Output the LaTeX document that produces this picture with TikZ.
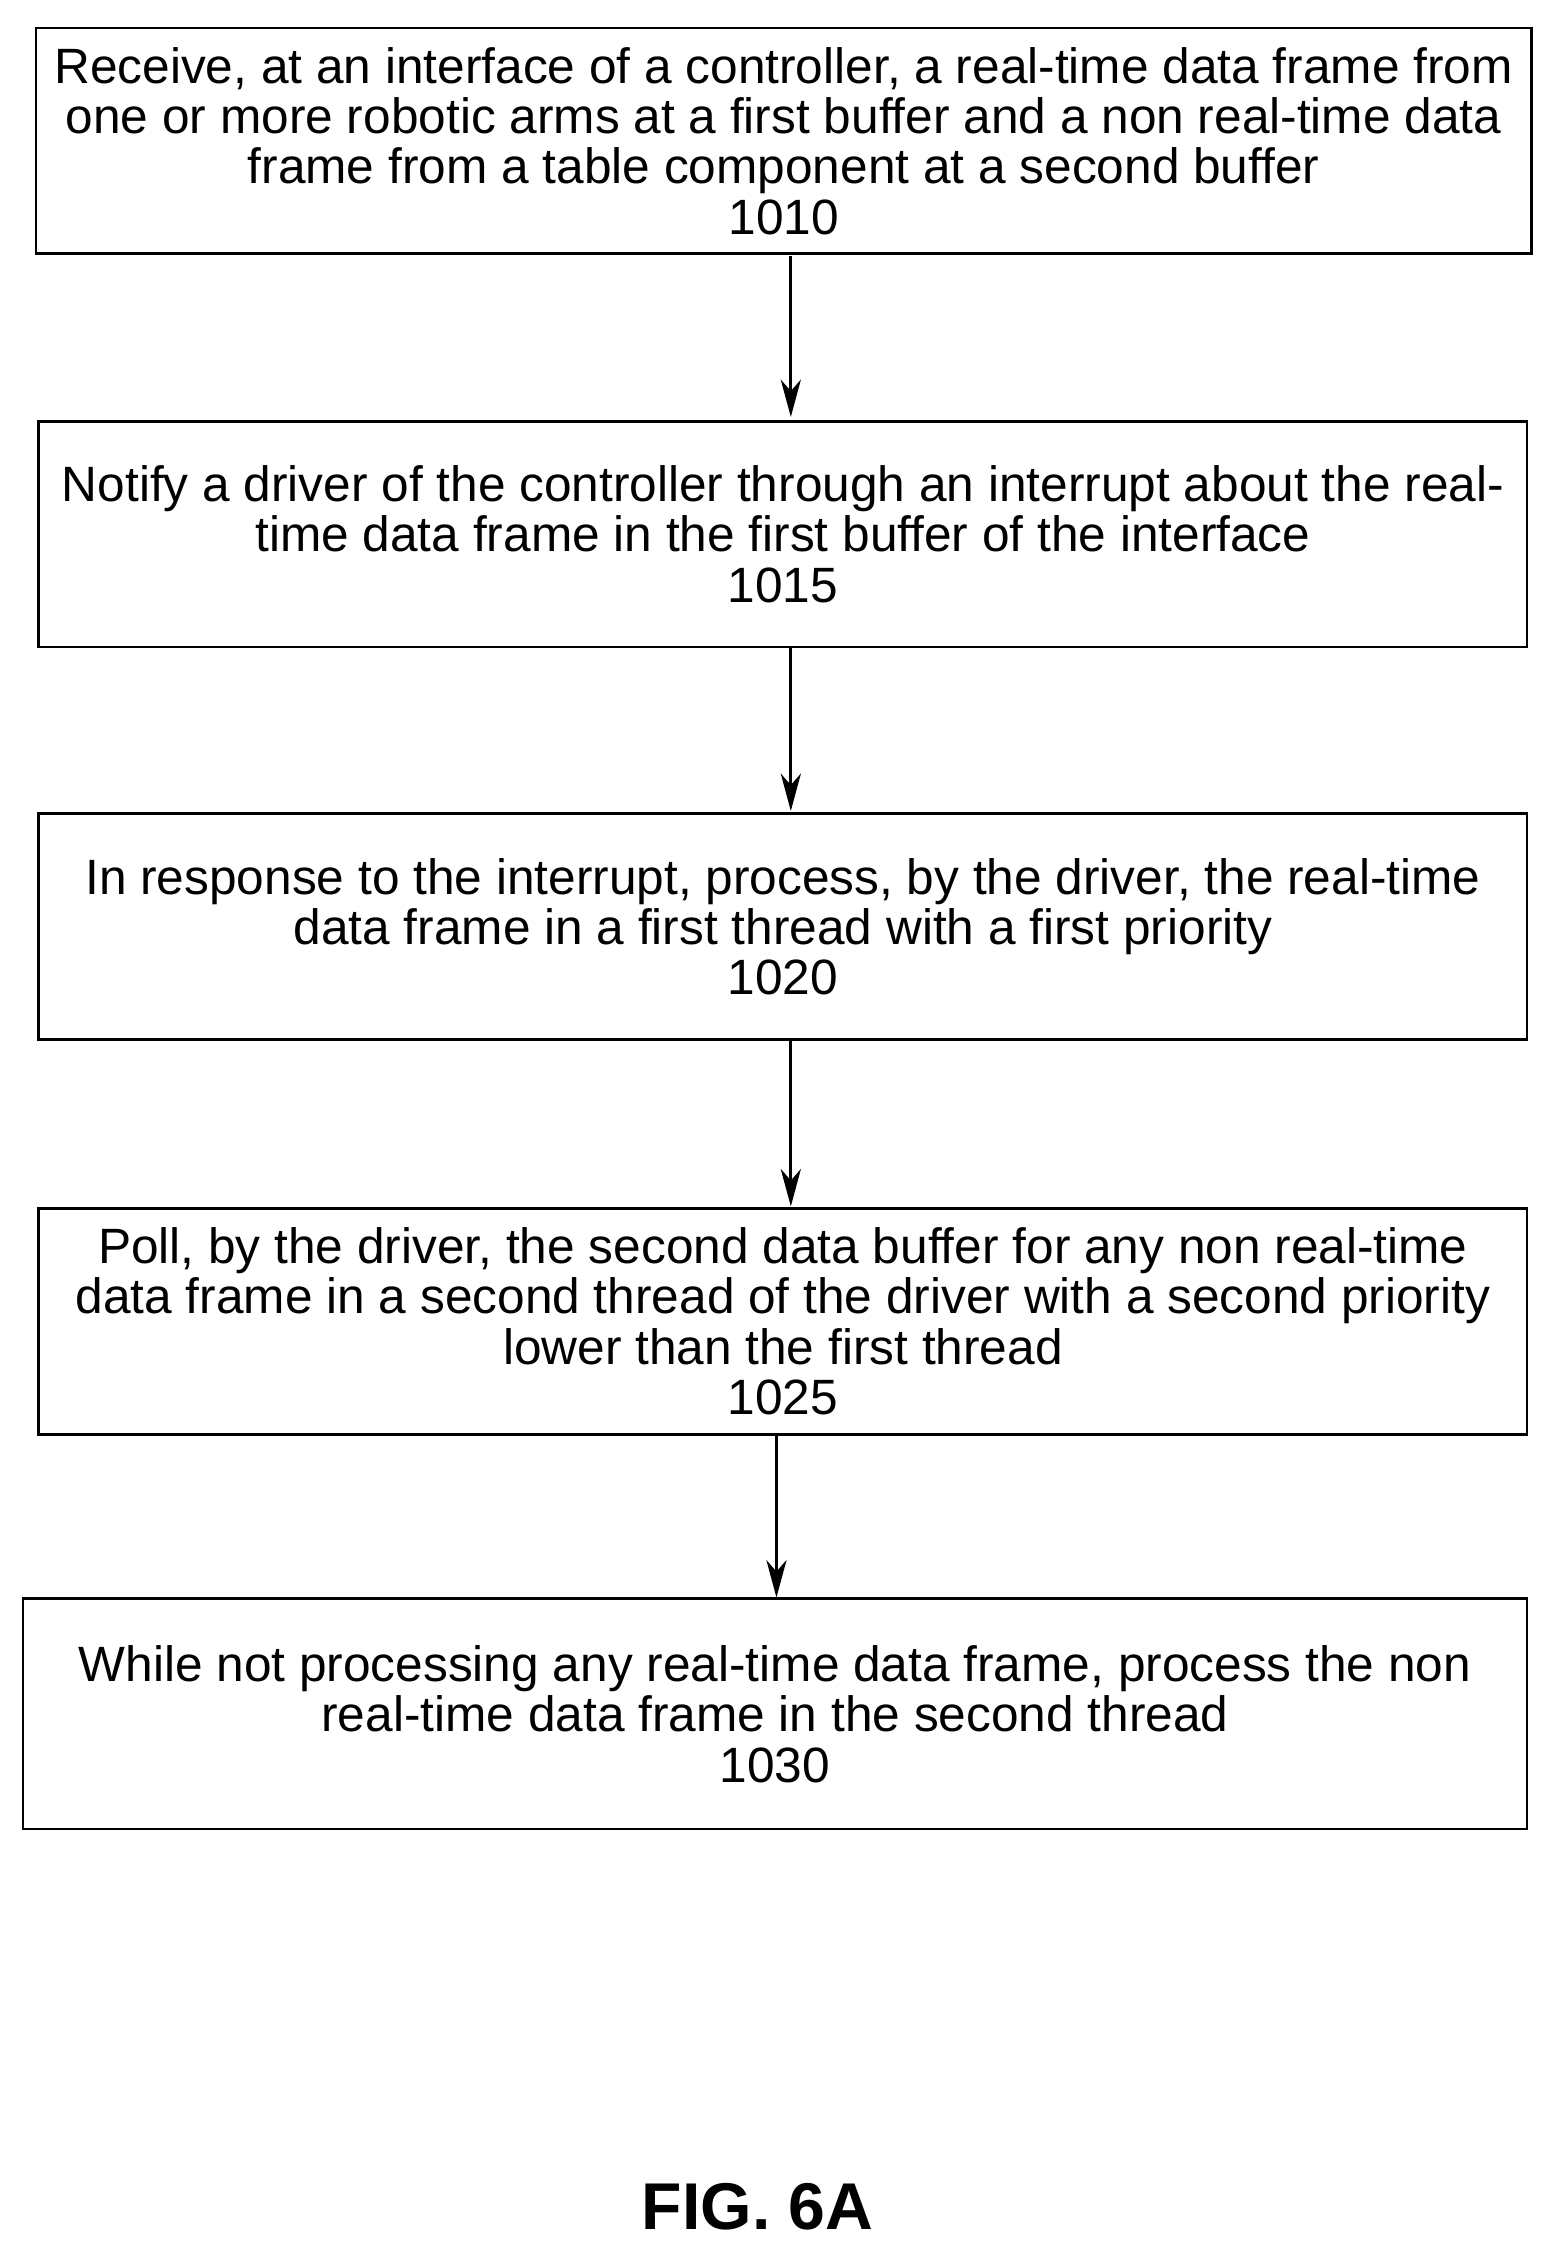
\documentclass[tikz,border=0pt]{standalone}
\usepackage{fontspec}
\usetikzlibrary{arrows.meta}
\setmainfont{Liberation Sans}
\tikzset{every picture/.style={line width=2pt}}
\tikzset{stepbox/.style={draw,rectangle,line width=2pt,minimum height=157pt,align=center,inner sep=0pt,
  font=\fontsize{34.5}{35}\selectfont}}
\tikzset{flow/.style={line width=2pt,-{Stealth[length=26pt,width=14pt,inset=8pt]}}}
\begin{document}
\begin{tikzpicture}[x=1pt,y=1pt,yscale=-1,xscale=1]
  \useasboundingbox (0,0) rectangle (1090,1569);

  % Boxes
  \node [stepbox,minimum width=1040pt] (s1010) at (545,98) {Receive, at an interface of a controller, a real-time data frame from\\one or more robotic arms at a first buffer and a non real-time data\\frame from a table component at a second buffer\\1010};
  \node [stepbox,minimum width=1035pt] (s1015) at (544.5,371.5) {Notify a driver of the controller through an interrupt about the real-\\time data frame in the first buffer of the interface\\1015};
  \node [stepbox,minimum width=1035pt] (s1020) at (544.5,644.5) {In response to the interrupt, process, by the driver, the real-time\\data frame in a first thread with a first priority\\1020};
  \node [stepbox,minimum width=1035pt] (s1025) at (544.5,919) {Poll, by the driver, the second data buffer for any non real-time\\data frame in a second thread of the driver with a second priority\\lower than the first thread\\1025};
  \node [stepbox,minimum width=1046pt,minimum height=160pt] (s1030) at (539,1192) {While not processing any real-time data frame, process the non\\real-time data frame in the second thread\\1030};

  % Arrows
  \draw [flow] (550,178) -- (550,290);
  \draw [flow] (550,450) -- (550,564);
  \draw [flow] (550,722) -- (550,839);
  \draw [flow] (540,998) -- (540,1111);

  % Text Node
  \node [font=\fontsize{46}{50}\selectfont\bfseries] (fig) at (527,1535) {FIG. 6A};
\end{tikzpicture}
\end{document}
